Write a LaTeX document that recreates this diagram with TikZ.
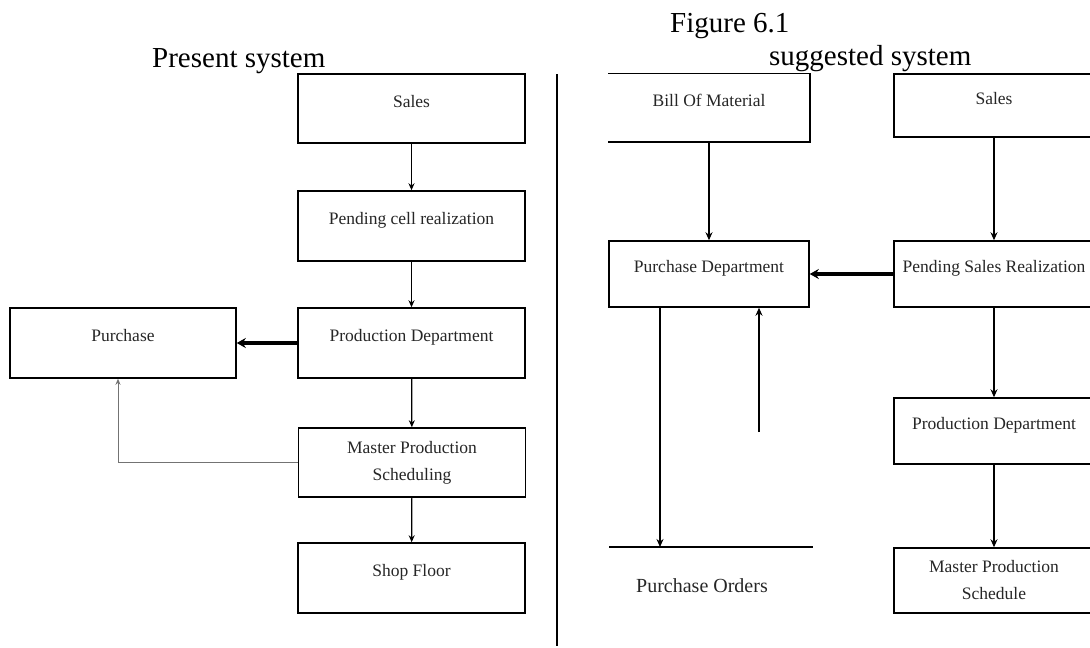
\documentclass[tikz,border=0pt]{standalone}
\usepackage{fontspec}
\setmainfont{Liberation Serif}
\usetikzlibrary{arrows.meta}
\tikzset{
  box/.style={draw, line width=1.5pt, minimum width=227pt, minimum height=69pt, inner sep=0pt,
    font=\fontsize{17.5}{27}\selectfont, text=black!85, text height=12pt, text depth=15pt},
  box2/.style={draw, line width=1.5pt, minimum width=200pt, minimum height=66pt, inner sep=0pt,
    font=\fontsize{17.5}{27}\selectfont, text=black!85, text height=12pt, text depth=15pt},
  twoline/.style={text height=, text depth=, align=center},
  title/.style={font=\fontsize{29}{33}\selectfont, anchor=base west, inner sep=0pt},
  arr/.style={line width=1.2pt, -{Stealth[length=7pt,width=6pt]}},
  arrB/.style={line width=1.5pt, -{Stealth[length=8pt,width=7pt]}},
  thick arr/.style={line width=3.5pt, -{Stealth[length=9pt,width=10pt]}},
  fb/.style={line width=1pt, draw=black!55, -{Stealth[length=6pt,width=5pt]}},
}
\begin{document}
\begin{tikzpicture}[x=1pt,y=-1pt]
\useasboundingbox (0,0) rectangle (1090,648);

% titles
\node[title] (tpres) at (152,67) {Present system};
\node[title] (tfig) at (670,32) {Figure 6.1};
\node[title] (tsug) at (769,65) {suggested system};

% divider
\coordinate (divtop) at (557,74);
\coordinate (divbot) at (557,646);
\draw[line width=1.5pt] (divtop) -- (divbot);

% ---------- present system ----------
\node[box] (sales1) at (411.5,108.5) {Sales};
\node[box, minimum height=70pt] (pend1) at (411.5,226) {Pending cell realization};
\node[box, minimum height=70pt] (prod1) at (411.5,343) {Production Department};
\node[box, twoline] (mps1) at (412,462.5) {Master Production\\Scheduling};
\node[box, minimum height=70pt] (shop1) at (411.5,578) {Shop Floor};
\node[box, minimum width=226pt, minimum height=70pt] (purch1) at (123,343) {Purchase};

\draw[arr] (sales1) -- (pend1);
\draw[arr] (pend1) -- (prod1);
\draw[arr] (prod1) -- (mps1);
\draw[arr] (mps1) -- (shop1);
\draw[thick arr] (prod1.west) -- (purch1.east);
\draw[fb] (mps1.west) -| ([xshift=-5pt]purch1.south);

% ---------- suggested system ----------
\node[box2, draw=none, minimum height=67pt] (bom) at (709,107.5) {Bill Of Material};
\draw[line width=1.5pt] (bom.north west) -- (bom.north east) -- (bom.south east) -- (bom.south west);
\node[box2] (pdept) at (709,274) {Purchase Department};
\node[box2, minimum height=63pt] (sales2) at (994,105.5) {Sales};
\node[box2] (pend2) at (994,274) {Pending Sales Realization};
\node[box2] (prod2) at (994,431) {Production Department};
\node[box2, twoline, minimum height=65pt] (mps2) at (994,580.5) {Master Production\\Schedule};

\coordinate (poL) at (609,547);
\coordinate (poR) at (813,547);
\draw[line width=1.5pt] (poL) -- (poR);
\node[font=\fontsize{20}{24}\selectfont, text=black!85] (porders) at (702,586) {Purchase Orders};

\draw[arrB] (bom) -- (pdept);
\draw[arrB] (sales2) -- (pend2);
\draw[arrB] (pend2) -- (prod2);
\draw[arrB] (prod2) -- (mps2);
\draw[thick arr] (pend2.west) -- (pdept.east);
\draw[arrB] ([xshift=-49pt]pdept.south) -- ([xshift=-49pt]pdept.south |- poL);
\coordinate (upstart) at (759,432);
\draw[arrB] (upstart) -- (upstart |- pdept.south);
\end{tikzpicture}
\end{document}
